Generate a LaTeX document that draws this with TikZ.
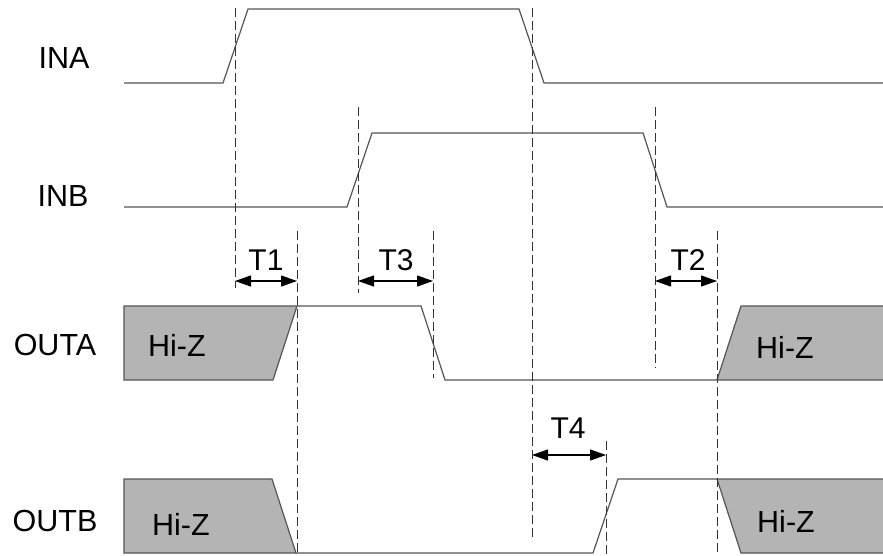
\documentclass[tikz,border=0pt]{standalone}
\usepackage{fontspec}
\setmainfont{Liberation Sans}
\usetikzlibrary{arrows.meta}
\definecolor{wave}{HTML}{555555}
\definecolor{hiz}{HTML}{B4B4B4}
\begin{document}
\begin{tikzpicture}[x=1pt,y=-1pt,
  sig/.style={draw=wave,line width=1.2pt,line join=miter},
  hizbox/.style={fill=hiz,draw=wave,line width=1.2pt},
  guide/.style={draw=black!80,line width=1pt,dash pattern=on 9pt off 4pt},
  dim/.style={draw=black,line width=1.1pt,{Triangle[length=16pt,width=11pt]}-{Triangle[length=16pt,width=11pt]}},
  lbl/.style={inner sep=0pt,font=\fontsize{30.5}{34}\selectfont},
  tl/.style={inner sep=0pt,font=\fontsize{30}{33}\selectfont}]
\useasboundingbox (0,0) rectangle (883,556);
% signal names
\node[lbl] (ina) at (64,58) {INA};
\node[lbl] (inb) at (63,196) {INB};
\node[lbl] (outa) at (55,345) {OUTA};
\node[lbl] (outb) at (55,521) {OUTB};
% INA / INB waveforms
\draw[sig] (124,83) -- (223,83) -- (248,9) -- (519,9) -- (544,83) -- (883,83);
\draw[sig] (124,207) -- (347,207) -- (372,133) -- (643,133) -- (667,207) -- (883,207);
% OUTA
\draw[hizbox] (124,306) -- (297,306) -- (273,380) -- (124,380) -- cycle;
\fill[hiz] (717,380) -- (741,306) -- (883,306) -- (883,380) -- cycle;
\draw[sig] (297,306) -- (421,306) -- (445,380) -- (883,380);
\draw[sig] (717,380) -- (741,306) -- (883,306);
% OUTB
\draw[hizbox] (124,479) -- (272,479) -- (296,553) -- (124,553) -- cycle;
\fill[hiz] (717,479) -- (741,553) -- (883,553) -- (883,479) -- cycle;
\draw[sig] (296,553) -- (593,553) -- (618,479) -- (883,479);
\draw[sig] (717,479) -- (741,553) -- (883,553);
% Hi-Z labels
\node[lbl] (hz1) at (177,345) {Hi-Z};
\node[lbl] (hz2) at (785,347) {Hi-Z};
\node[lbl] (hz3) at (181,524) {Hi-Z};
\node[lbl] (hz4) at (786,521) {Hi-Z};
% guide lines
\coordinate (d1t) at (235,8);   \coordinate (d1b) at (235,288);
\coordinate (d2t) at (358,107); \coordinate (d2b) at (358,293);
\coordinate (d3t) at (532,8);   \coordinate (d3b) at (532,541);
\coordinate (d4t) at (655,107); \coordinate (d4b) at (655,368);
\coordinate (d5t) at (297,231); \coordinate (d5b) at (297,556);
\coordinate (d6t) at (433,231); \coordinate (d6b) at (433,378);
\coordinate (d7t) at (717,231); \coordinate (d7b) at (717,556);
\coordinate (d8t) at (606,441); \coordinate (d8b) at (606,556);
\foreach \d in {d1,d2,d3,d4,d5,d6,d7,d8} \draw[guide] (\d t) -- (\d b);
% dimension arrows
\coordinate (t1a) at (235,281); \coordinate (t1b) at (297,281);
\coordinate (t3a) at (358,281); \coordinate (t3b) at (433,281);
\coordinate (t2a) at (655,281); \coordinate (t2b) at (717,281);
\coordinate (t4a) at (532,455); \coordinate (t4b) at (606,455);
\draw[dim] (t1a) -- (t1b);
\draw[dim] (t3a) -- (t3b);
\draw[dim] (t2a) -- (t2b);
\draw[dim] (t4a) -- (t4b);
\node[tl] (T1) at (266,260) {T1};
\node[tl] (T3) at (396,260) {T3};
\node[tl] (T2) at (688,260) {T2};
\node[tl] (T4) at (568,428) {T4};
\end{tikzpicture}
\end{document}
